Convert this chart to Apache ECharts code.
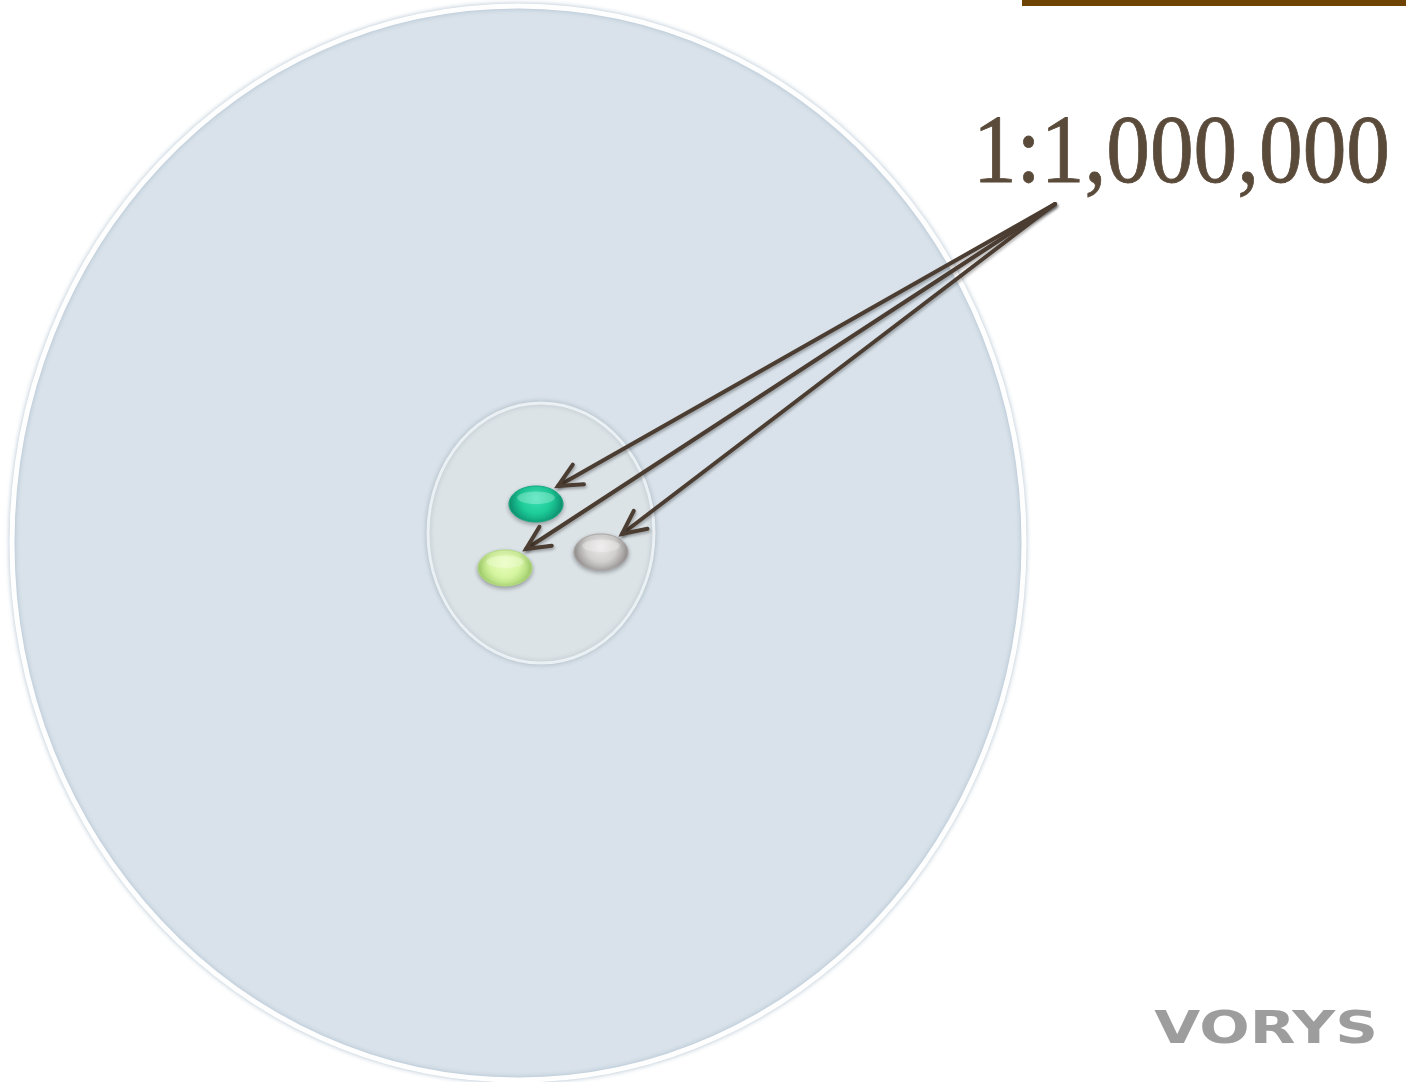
<!DOCTYPE html>
<html>
<head>
<meta charset="utf-8">
<script src="https://cdn.jsdelivr.net/npm/echarts@6/dist/echarts.min.js"></script>
<style>html,body{margin:0;padding:0;background:#fff;}#c{width:1414px;height:1082px;}</style>
</head>
<body>
<div id="c"></div>
<script>
// ---- data ----
const shapeNames = ['outer', 'inner', 'teal', 'green', 'gray'];
const shapeX  = [518, 541, 536, 505, 601];
const shapeY  = [543, 533, 504, 568, 552];
const shapeRX = [506, 113, 27, 27, 27];
const shapeRY = [537, 130, 18, 18, 18];

const arrowStart = [1055, 204];
const arrowEndX = [558, 526, 622];
const arrowEndY = [486, 549, 534];

const scaleLabel = '1:1,000,000';
const logoLabel = 'VORYS';

// ---- styles ----
const shapeStyles = {
  outer: {
    fill: '#d9e2ea', stroke: 'rgba(255,255,255,0.98)', lineWidth: 5,
    shadowBlur: 5, shadowColor: 'rgba(120,150,175,0.5)'
  },
  inner: {
    fill: '#dce3e7', stroke: 'rgba(236,242,245,0.95)', lineWidth: 3,
    shadowBlur: 5, shadowColor: 'rgba(100,120,135,0.35)'
  },
  teal: {
    fill: new echarts.graphic.RadialGradient(0.5, 0.35, 0.7, [
      {offset: 0, color: '#3fe3b6'}, {offset: 0.6, color: '#1ccb98'}, {offset: 1, color: '#0f9a76'}]),
    stroke: '#16a884', lineWidth: 1, shadowBlur: 4, shadowOffsetY: 2, shadowColor: 'rgba(0,0,0,0.3)'
  },
  green: {
    fill: new echarts.graphic.RadialGradient(0.5, 0.35, 0.7, [
      {offset: 0, color: '#eaffbd'}, {offset: 0.6, color: '#d5f5a0'}, {offset: 1, color: '#a9d473'}]),
    stroke: '#b3dc82', lineWidth: 1, shadowBlur: 4, shadowOffsetY: 2, shadowColor: 'rgba(0,0,0,0.3)'
  },
  gray: {
    fill: new echarts.graphic.RadialGradient(0.5, 0.35, 0.7, [
      {offset: 0, color: '#ebe9e9'}, {offset: 0.6, color: '#d2cfcf'}, {offset: 1, color: '#9e9a9a'}]),
    stroke: '#aaa6a6', lineWidth: 1, shadowBlur: 4, shadowOffsetY: 2, shadowColor: 'rgba(0,0,0,0.3)'
  }
};

const chart = echarts.init(document.getElementById('c'), null, {renderer: 'canvas'});

const shapeData = shapeNames.map((n, i) => [shapeX[i], shapeY[i], shapeRX[i], shapeRY[i], i]);
const arrowData = arrowEndX.map((x, i) => [arrowStart[0], arrowStart[1], x, arrowEndY[i]]);

function renderShape(params, api) {
  const c = api.coord([api.value(0), api.value(1)]);
  const s = api.size([api.value(2), api.value(3)]);
  const name = shapeNames[api.value(4)];
  const children = [{
    type: 'ellipse',
    shape: {cx: c[0], cy: c[1], rx: s[0], ry: s[1]},
    style: shapeStyles[name]
  }];
  if (name !== 'outer' && name !== 'inner') {
    children.push({
      type: 'ellipse',
      shape: {cx: c[0], cy: c[1] - s[1] * 0.35, rx: s[0] * 0.7, ry: s[1] * 0.35},
      style: {fill: 'rgba(255,255,255,0.25)'}
    });
  }
  return {type: 'group', children: children};
}

function renderArrow(params, api) {
  const p0 = api.coord([api.value(0), api.value(1)]);
  const p1 = api.coord([api.value(2), api.value(3)]);
  const ang = Math.atan2(p0[1] - p1[1], p0[0] - p1[0]);
  const L = 26, spread = 0.45;
  const a1 = [p1[0] + L * Math.cos(ang + spread), p1[1] + L * Math.sin(ang + spread)];
  const a2 = [p1[0] + L * Math.cos(ang - spread), p1[1] + L * Math.sin(ang - spread)];
  const style = {stroke: '#4b3d31', lineWidth: 4, fill: null, lineCap: 'round', lineJoin: 'miter',
    shadowBlur: 3, shadowOffsetX: 1, shadowOffsetY: 2, shadowColor: 'rgba(0,0,0,0.3)'};
  return {
    type: 'group',
    children: [
      {type: 'line', shape: {x1: p0[0], y1: p0[1], x2: p1[0], y2: p1[1]}, style: style},
      {type: 'polyline', shape: {points: [a1, p1, a2]}, style: style}
    ]
  };
}

chart.setOption({
  animation: false,
  backgroundColor: '#ffffff',
  grid: {left: 0, right: 0, top: 0, bottom: 0},
  xAxis: {type: 'value', min: 0, max: 1414, show: false},
  yAxis: {type: 'value', min: 0, max: 1082, inverse: true, show: false},
  graphic: [
    {type: 'rect', shape: {x: 1022, y: 0, width: 384, height: 6}, style: {fill: '#6e4304'}, z: 10},
    {type: 'text', x: 1390, y: 157, scaleX: 0.9, z: 10,
      style: {text: scaleLabel, fontFamily: 'Liberation Serif', fontSize: 97, fill: '#5a4a3a',
        stroke: '#5a4a3a', lineWidth: 0.8,
        align: 'right', verticalAlign: 'middle',
        shadowBlur: 6, shadowOffsetX: 3, shadowOffsetY: 5, shadowColor: 'rgba(0,0,0,0.4)'}},
    {type: 'text', x: 1378, y: 1032, scaleX: 1.35, z: 10,
      style: {text: logoLabel, fontFamily: 'DejaVu Sans', fontWeight: 'bold', fontSize: 44, fill: '#9d9d9d',
        align: 'right', verticalAlign: 'middle',
        shadowBlur: 6, shadowOffsetY: 6, shadowColor: 'rgba(0,0,0,0.3)'}}
  ],
  series: [
    {type: 'custom', renderItem: renderShape, data: shapeData, z: 1, silent: true},
    {type: 'custom', renderItem: renderArrow, data: arrowData, z: 5, silent: true}
  ]
});
</script>
</body>
</html>
